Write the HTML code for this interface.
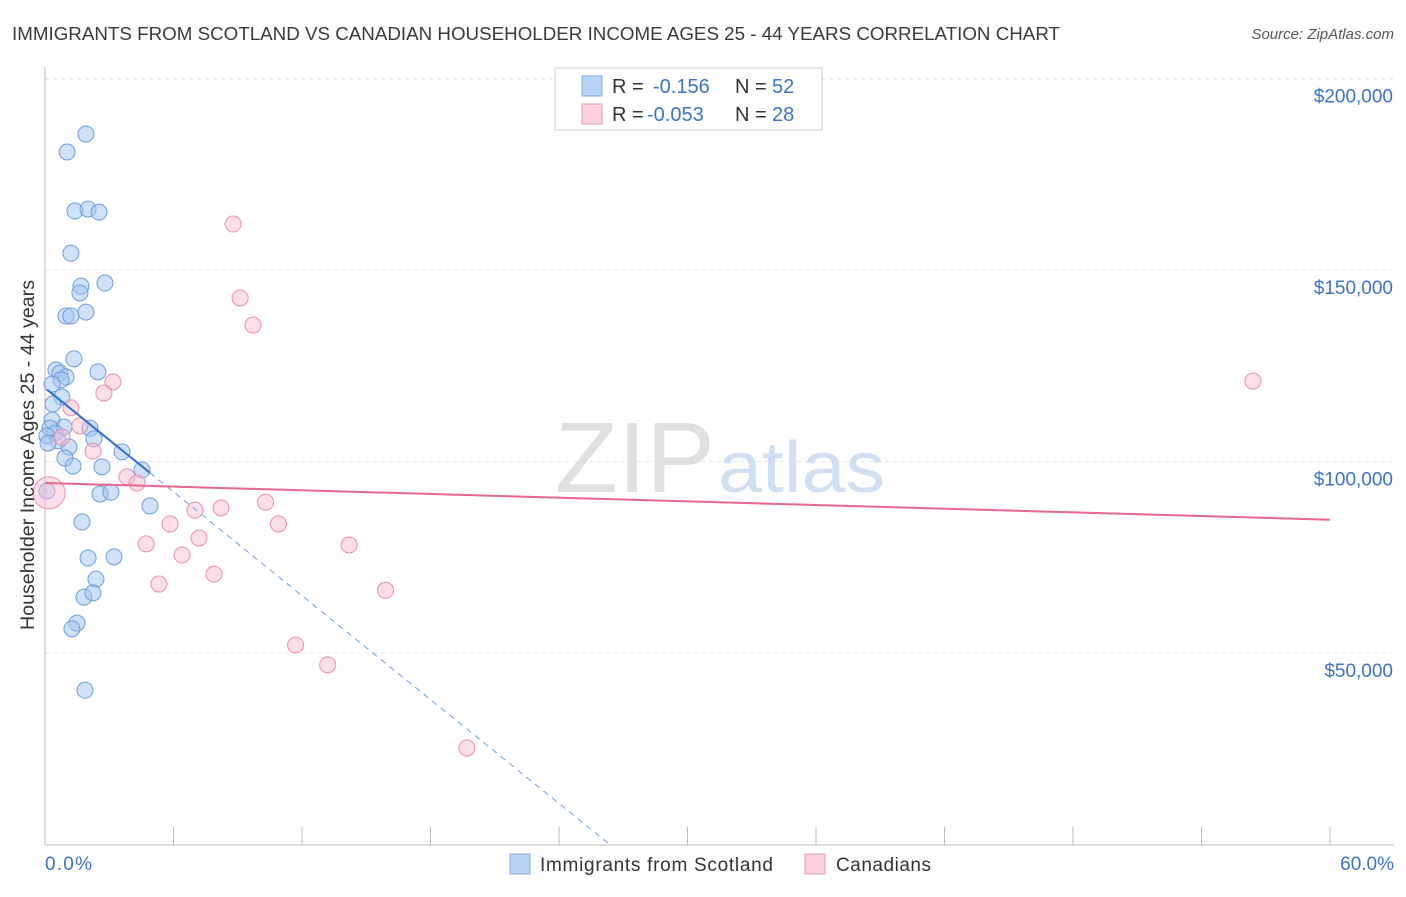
<!DOCTYPE html>
<html><head><meta charset="utf-8"><style>
body{margin:0;background:#fff;font-family:"Liberation Sans",sans-serif;}
svg text{font-family:"Liberation Sans",sans-serif;}
</style></head><body>
<svg id="chart" width="1406" height="892" xmlns="http://www.w3.org/2000/svg">
<text x="12" y="40" font-size="18" fill="#3a3a3a" textLength="1048" lengthAdjust="spacingAndGlyphs">IMMIGRANTS FROM SCOTLAND VS CANADIAN HOUSEHOLDER INCOME AGES 25 - 44 YEARS CORRELATION CHART</text>
<text x="1394" y="39" font-size="15" fill="#555" font-style="italic" text-anchor="end">Source: ZipAtlas.com</text>
<g id="grid"></g>
<text x="555" y="492" font-size="100" fill="#e0e0e0" textLength="160" lengthAdjust="spacingAndGlyphs" font-family="Liberation Serif">ZIP</text>
<text x="718" y="492" font-size="72" fill="#d0e0f2" textLength="167" lengthAdjust="spacingAndGlyphs">atlas</text>
<g id="marks"></g>
<text x="34" y="455" font-size="19" fill="#333" text-anchor="middle" transform="rotate(-90 34 455)" textLength="350" lengthAdjust="spacingAndGlyphs">Householder Income Ages 25 - 44 years</text>
<text x="45" y="870" font-size="19" fill="#3b73c9" textLength="47">0.0%</text>
<text x="1394" y="870" font-size="19" fill="#3b73c9" text-anchor="end">60.0%</text>
<g>
<rect x="555" y="68" width="267" height="62" fill="#fff" stroke="#ccc"/>
<rect x="582" y="76" width="20" height="20" fill="#b9d3f5" stroke="#7fa8e0"/>
<rect x="582" y="104" width="20" height="20" fill="#fbd0dc" stroke="#ef9ab3"/>
<text x="612" y="93" font-size="20" fill="#333">R = </text><text x="653" y="93" font-size="20" fill="#3b73c9">-0.156</text>
<text x="735" y="93" font-size="20" fill="#333">N = </text><text x="772" y="93" font-size="20" fill="#3b73c9">52</text>
<text x="612" y="121" font-size="20" fill="#333">R = </text><text x="647" y="121" font-size="20" fill="#3b73c9">-0.053</text>
<text x="735" y="121" font-size="20" fill="#333">N = </text><text x="772" y="121" font-size="20" fill="#3b73c9">28</text>
</g>
<g>
<rect x="510" y="854" width="20" height="20" fill="#b9d3f5" stroke="#7fa8e0"/>
<text x="540" y="871" font-size="19" fill="#333" textLength="233">Immigrants from Scotland</text>
<rect x="805" y="854" width="20" height="20" fill="#fbd0dc" stroke="#ef9ab3"/>
<text x="836" y="871" font-size="19" fill="#333" textLength="95">Canadians</text>
</g>
</svg>
<script>
const yTicks=[50000,100000,150000,200000];
const yTickLabels=["$50,000","$100,000","$150,000","$200,000"];
const xTicks=[0,6,12,18,24,30,36,42,48,54,60];
const blueX=[1.91,1.03,1.40,2.01,2.52,1.21,1.68,2.80,1.63,0.98,1.91,1.21,1.35,0.51,0.70,2.47,0.98,0.75,0.33,0.79,0.37,0.33,0.89,0.23,2.10,0.47,0.09,2.29,0.61,1.12,0.14,3.60,0.93,1.31,2.66,4.53,0.09,2.57,3.08,4.90,1.73,2.01,3.22,2.38,1.82,2.24,1.49,1.26,1.87];
const blueY=[185500,180800,165400,165900,165100,154400,145800,146600,144000,138000,139000,138000,126800,123900,123100,123400,122100,121300,120200,116800,115000,110800,109000,108700,108700,107400,106700,105900,105400,103800,104800,102500,100900,98800,98600,97800,92300,91500,92000,88400,84200,74800,75100,69300,64600,65700,57800,56300,40300];
const pinkX=[8.78,9.11,9.71,56.4,3.17,2.75,1.21,1.63,0.79,2.24,3.83,4.30,0.19,10.3,7.0,8.22,5.84,10.9,7.19,4.72,14.2,6.40,7.89,5.32,15.9,11.7,13.2,19.7];
const pinkY=[162000,142700,135600,121000,120800,117900,114000,109300,106400,102700,96000,94400,91800,89400,87300,87900,83700,83700,80000,78500,78200,75600,70600,68000,66400,52100,46900,25200];
const blueTrend=[119200,-4520];
const pinkTrend=[94400,-160];
const X=v=>45+v/60*1285;
const Y=v=>653-(v-50000)/50000*191.5;
const NS="http://www.w3.org/2000/svg";
function mk(t,a,p){const e=document.createElementNS(NS,t);for(const k in a)e.setAttribute(k,a[k]);p.appendChild(e);return e;}
const grid=document.getElementById('grid'),marks=document.getElementById('marks');
mk('line',{x1:45,y1:79,x2:1394,y2:79,stroke:'#e4e4e4','stroke-dasharray':'4 4'},grid);
yTicks.forEach((t,i)=>{
 const l=mk('line',{x1:45,y1:Y(t),x2:1394,y2:Y(t),stroke:'#e4e4e4','stroke-dasharray':'4 4'},grid);
 
 
 const tx=mk('text',{x:1393,y:Y(t)+24,'font-size':19,fill:'#3b73c9','text-anchor':'end'},grid);
 tx.textContent=yTickLabels[i];
 
 
});
mk('line',{x1:45,y1:67,x2:45,y2:845,stroke:'#bbb'},grid);
mk('line',{x1:45,y1:845,x2:1394,y2:845,stroke:'#bbb'},grid);
xTicks.forEach(t=>{
 const l=mk('line',{x1:X(t),y1:827,x2:X(t),y2:845,stroke:'#bbb'},grid);
 
 
});
blueX.forEach((x,i)=>{
 const c=mk('circle',{cx:X(x),cy:Y(blueY[i]),r:8,fill:'rgba(160,196,240,0.5)',stroke:'#6d9de0','stroke-width':1},marks);
 
 
});
pinkX.forEach((x,i)=>{
 const big=i===12;
 const c=mk('circle',{cx:X(x),cy:Y(pinkY[i]),r:big?16:8,fill:'rgba(248,190,208,0.5)',stroke:'#ec8fab','stroke-width':1},marks);
 
 
});
const bx0=-blueTrend[0]/blueTrend[1];
const bs=mk('line',{x1:X(0.1),y1:Y(blueTrend[0]+blueTrend[1]*0.1),x2:X(4.9),y2:Y(blueTrend[0]+blueTrend[1]*4.9),stroke:'#2f6fd6','stroke-width':2},marks);


const bd=mk('line',{x1:X(4.9),y1:Y(blueTrend[0]+blueTrend[1]*4.9),x2:X(bx0),y2:Y(0),stroke:'#6d9de0','stroke-width':1,'stroke-dasharray':'6 5'},marks);


const pt=mk('line',{x1:X(0),y1:Y(pinkTrend[0]),x2:X(60),y2:Y(pinkTrend[0]+pinkTrend[1]*60),stroke:'#e8678f','stroke-width':2},marks);


</script>
</body></html>
